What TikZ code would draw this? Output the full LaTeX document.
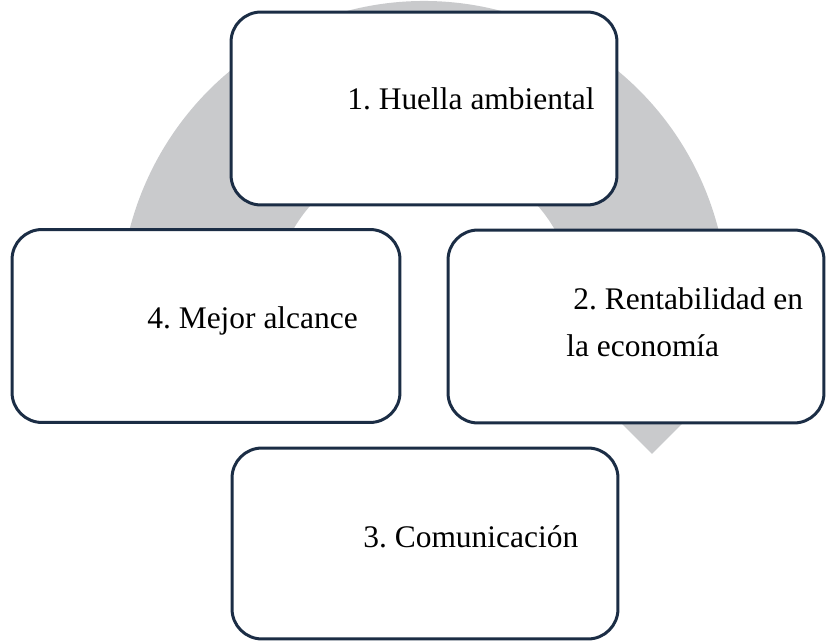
\documentclass[tikz,border=0pt]{standalone}
\usepackage{fontspec}
\setmainfont{Liberation Serif}
\usetikzlibrary{positioning}
\definecolor{ringgrey}{RGB}{201,202,204}
\definecolor{boxnavy}{RGB}{27,45,69}
\frenchspacing

\begin{document}
\begin{tikzpicture}[
    x=0.02cm, y=-0.02cm,
    box/.style={draw=boxnavy, line width=1.7pt, rounded corners=0.6cm, fill=white, minimum width=#1},
    box/.default=7.72cm,
    txt/.style={inner sep=0pt, anchor=base west, font=\rmfamily\fontsize{17.9}{22}\selectfont},
]
    \useasboundingbox (0,0) rectangle (826,641);
    \coordinate (c) at (424,305);
    \fill[ringgrey] ([shift={(200:6.08cm)}]c) arc[start angle=200, end angle=-10, radius=6.08cm]
        -- (742,364) -- (652,454) -- (552,354)
        -- ([shift={(-10:3.02cm)}]c) arc[start angle=-10, end angle=200, radius=3.02cm] -- cycle;
    \node[box, minimum height=3.86cm] (huella) at (424,108.5) {};
    \node[box=7.76cm, minimum height=3.86cm] (alcance) at (206,326) {};
    \node[box=7.52cm, minimum height=3.86cm] (rentab) at (636,326.5) {};
    \node[box, minimum height=3.82cm] (comunic) at (425,543.5) {};
    \node[txt] (tHuella) at (347,110) {1. Huella ambiental};
    \node[txt] (tRentab) at (573,310) {2. Rentabilidad en};
    \node[txt] (tEcon) at (566,357) {la economía};
    \node[txt] (tComunic) at (363,548) {3. Comunicación};
    \node[txt] (tAlcance) at (147,329) {4. Mejor alcance};
\end{tikzpicture}
\end{document}
